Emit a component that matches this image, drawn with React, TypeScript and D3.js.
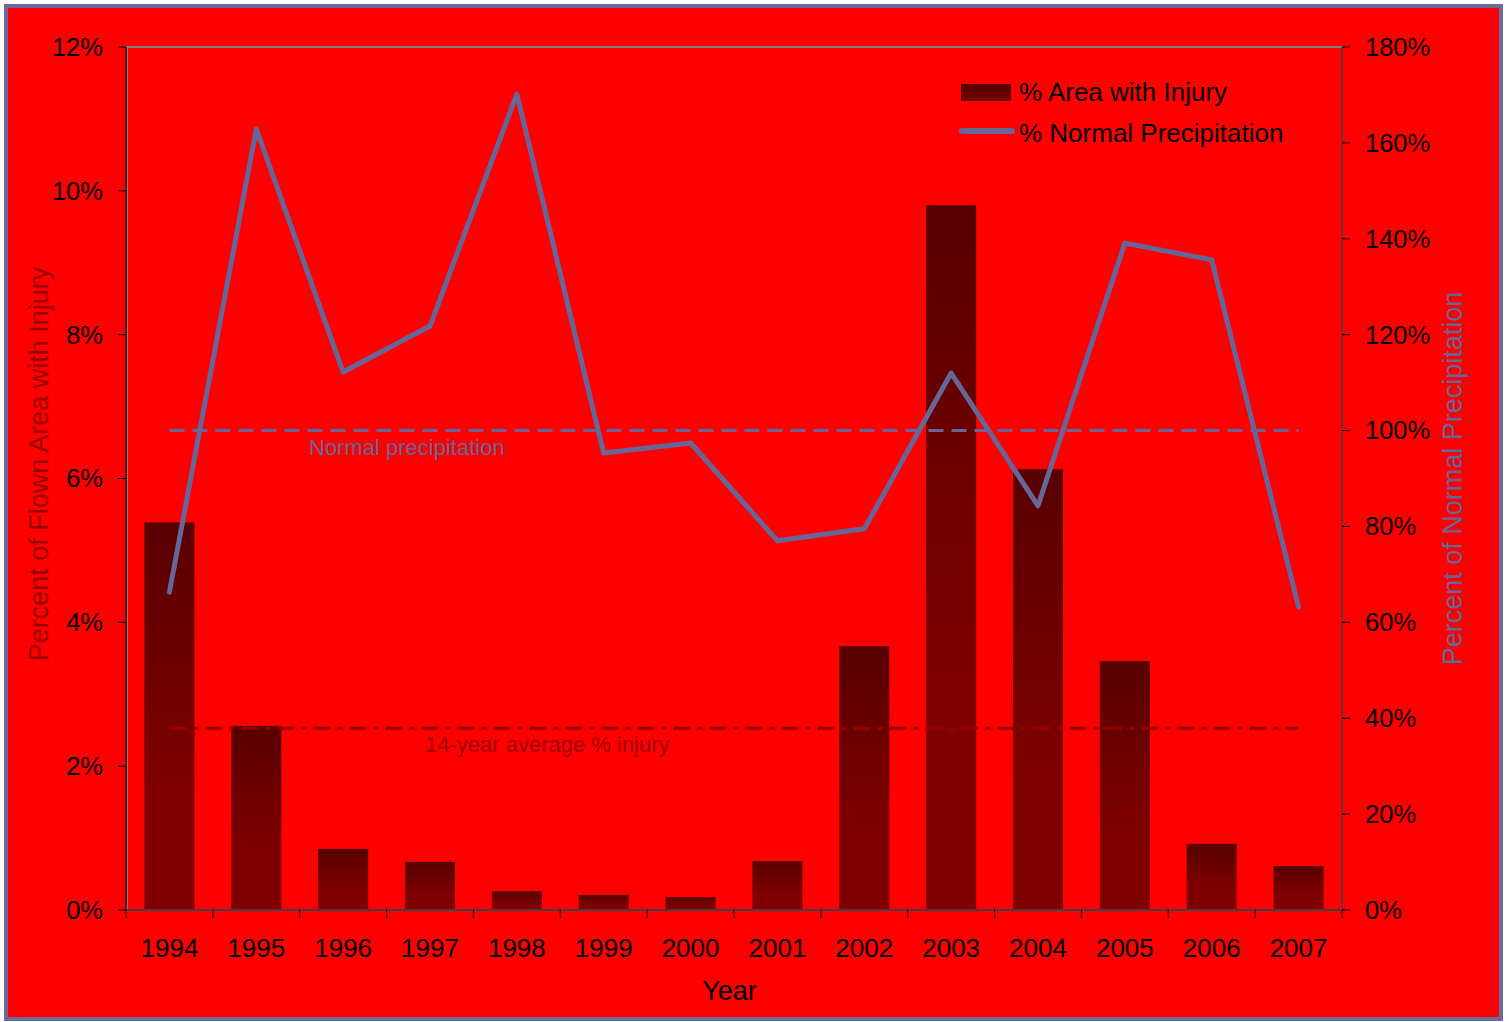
import React from "react";
import * as d3 from "d3";

const years = ["1994","1995","1996","1997","1998","1999","2000","2001","2002","2003","2004","2005","2006","2007"];
const injuryPct = [5.39, 2.56, 0.85, 0.67, 0.26, 0.21, 0.18, 0.68, 3.67, 9.8, 6.13, 3.46, 0.92, 0.61];
const precipPct = [66.3, 162.9, 112.2, 121.8, 170.2, 95.3, 97.4, 77.0, 79.5, 112.0, 84.3, 139.1, 135.6, 63.2];
const leftTicks = [0, 2, 4, 6, 8, 10, 12];
const rightTicks = [0, 20, 40, 60, 80, 100, 120, 140, 160, 180];
const normalPrecip = 100;

const W = 1509, H = 1022;
const L = 126, R = 1342, T = 47, B = 910;
const FONT = "'Liberation Sans', Arial, sans-serif";
const LINE = "#666699";

export default function App() {
  const x = d3.scaleBand<string>().domain(years).range([L, R]).paddingInner(0.424).paddingOuter(0.212);
  const band = d3.scaleBand<string>().domain(years).range([L, R]).padding(0);
  const yL = d3.scaleLinear().domain([0, 12]).range([B, T]);
  const yR = d3.scaleLinear().domain([0, 180]).range([B, T]);
  const avg = d3.mean(injuryPct) as number;
  const cx = (y: string) => (band(y) as number) + band.bandwidth() / 2;
  const line = d3.line<number>().x((_, i) => cx(years[i])).y(d => yR(d));
  const x0 = cx(years[0]);
  const x1 = cx(years[years.length - 1]);

  return (
    <svg width={W} height={H} style={{ position: "absolute", left: 0, top: 0, background: "#fff" }} fontFamily={FONT}>
      <defs>
        <linearGradient id="barG" x1="0" y1="0" x2="0" y2="1">
          <stop offset="0" stopColor="#580000" />
          <stop offset="0.7" stopColor="#800000" />
          <stop offset="1" stopColor="#800000" />
        </linearGradient>
        <linearGradient id="legG" x1="0" y1="0" x2="0" y2="1">
          <stop offset="0" stopColor="#580000" />
          <stop offset="1" stopColor="#700000" />
        </linearGradient>
      </defs>
      <rect x={6} y={6} width={1495} height={1013} fill="#ff0000" stroke="#6b6b9e" strokeWidth={4} />

      {/* bars */}
      {years.map((yr, i) => (
        <rect key={yr} x={x(yr)} y={yL(injuryPct[i])} width={x.bandwidth()} height={B - yL(injuryPct[i])} fill="url(#barG)" />
      ))}

      {/* reference lines */}
      <line x1={x0} x2={x1} y1={yR(normalPrecip)} y2={yR(normalPrecip)} stroke={LINE} strokeWidth={3} strokeDasharray="15,8" />
      <line x1={x0} x2={x1} y1={yL(avg)} y2={yL(avg)} stroke="#990000" strokeWidth={3} strokeDasharray="17,7,5,7" />
      <text x={309} y={455} fontSize={22} fill={LINE}>Normal precipitation</text>
      <text x={425} y={752} fontSize={22} fill="#a00000">14-year average % injury</text>

      {/* precipitation line */}
      <path d={line(precipPct) as string} fill="none" stroke={LINE} strokeWidth={5} strokeLinejoin="round" strokeLinecap="round" />

      {/* axes frame */}
      <line x1={L} x2={R} y1={T} y2={T} stroke="#808080" strokeWidth={2} />
      <line x1={L} x2={L} y1={T} y2={B} stroke="#222" strokeWidth={1.5} />
      <line x1={L + 1.5} x2={L + 1.5} y1={T} y2={B} stroke="#808080" strokeWidth={1} />
      <line x1={R} x2={R} y1={T} y2={B} stroke="#404040" strokeWidth={1.5} />
      <line x1={L} x2={R} y1={B} y2={B} stroke="#404040" strokeWidth={2} />

      {/* left ticks */}
      {leftTicks.map(t => (
        <g key={"l" + t}>
          <line x1={L - 8} x2={L} y1={yL(t)} y2={yL(t)} stroke="#000" strokeWidth={1} />
          <text x={103} y={yL(t)} dy="0.35em" fontSize={25.5} textAnchor="end" fill="#000">{t}%</text>
        </g>
      ))}
      {/* right ticks */}
      {rightTicks.map(t => (
        <g key={"r" + t}>
          <line x1={R} x2={R + 8} y1={yR(t)} y2={yR(t)} stroke="#000" strokeWidth={1} />
          <text x={1365} y={yR(t)} dy="0.35em" fontSize={25.5} textAnchor="start" fill="#000">{t}%</text>
        </g>
      ))}
      {/* x ticks */}
      {[...years.map(y => band(y) as number), R].map((v, i) => (
        <line key={"x" + i} x1={v} x2={v} y1={B} y2={B + 8} stroke="#000" strokeWidth={1} />
      ))}
      {years.map(yr => (
        <text key={"t" + yr} x={cx(yr)} y={957} fontSize={26} textAnchor="middle" fill="#000">{yr}</text>
      ))}

      {/* titles */}
      <text x={729.5} y={1000} fontSize={27} textAnchor="middle" fill="#000">Year</text>
      <text transform="translate(47.5,464) rotate(-90)" fontSize={27} textAnchor="middle" fill="#990000">Percent of Flown Area with Injury</text>
      <text transform="translate(1462,478.5) rotate(-90)" fontSize={27} textAnchor="middle" fill={LINE}>Percent of Normal Precipitation</text>

      {/* legend */}
      <rect x={961} y={84} width={50} height={17} fill="url(#legG)" />
      <text x={1019} y={101} fontSize={26} fill="#000">% Area with Injury</text>
      <line x1={962} x2={1012} y1={131} y2={131} stroke={LINE} strokeWidth={6} strokeLinecap="round" />
      <text x={1019} y={142} fontSize={26} fill="#000">% Normal Precipitation</text>
    </svg>
  );
}
